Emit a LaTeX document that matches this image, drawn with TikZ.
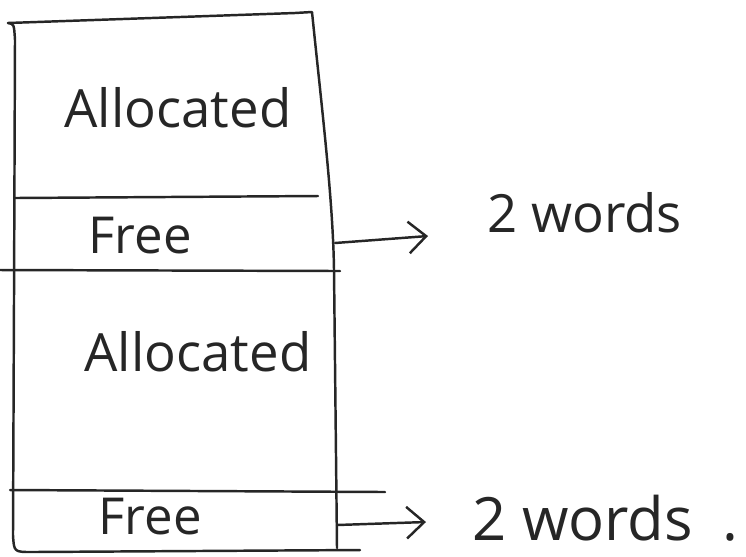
\documentclass[tikz,border=0pt]{standalone}
\usepackage{fontspec}
\setmainfont{Open Sans}
\usetikzlibrary{arrows.meta}
\begin{document}
\begin{tikzpicture}[x=0.02cm,y=-0.02cm,
  pen/.style={line width=1.4pt, line cap=round, line join=round, black!85},
  lbl/.style={font=\fontsize{30}{32}\selectfont, inner sep=0pt, text=black!85},
  small/.style={font=\fontsize{29}{31}\selectfont, inner sep=0pt, text=black!85},
  big/.style={font=\fontsize{34}{36}\selectfont, inner sep=0pt, text=black!85},
  pointer/.style={pen, -{Straight Barb[length=10pt,width=18pt,line width=1.4pt]}}]
\useasboundingbox (0,0) rectangle (746,556);

% memory block outline
\draw[pen] (8,23) .. controls (14,24) .. (15,40) -- (14,300) -- (13,535)
  .. controls (14,552) .. (32,552) -- (360,550);
\draw[pen] (8,23) -- (295,13) -- (312,12)
  .. controls (322,110) and (333,200) .. (334,270) -- (337,548);

% dividers between regions
\draw[pen] (15,198) -- (318,196);
\draw[pen] (0,270) -- (340,271);
\draw[pen] (10,490) -- (385,492);

% region labels
\node[lbl]   (a1)  at (178,108) {Allocated};
\node[small] (fr1) at (140,236) {Free};
\node[lbl]   (a2)  at (198,352) {Allocated};
\node[small] (fr2) at (150,517) {Free};

% size annotations
\node[lbl, anchor=west] (w1) at (487,213) {2 words};
\node[big, anchor=west] (w2) at (472,518) {2 words\hspace{0.5em}.};

\coordinate (f1) at (335,243);
\coordinate (t1) at (428,236);
\coordinate (f2) at (337,525);
\coordinate (t2) at (426,522);
\draw[pointer] (f1) -- (t1);
\draw[pointer] (f2) -- (t2);
\end{tikzpicture}
\end{document}
